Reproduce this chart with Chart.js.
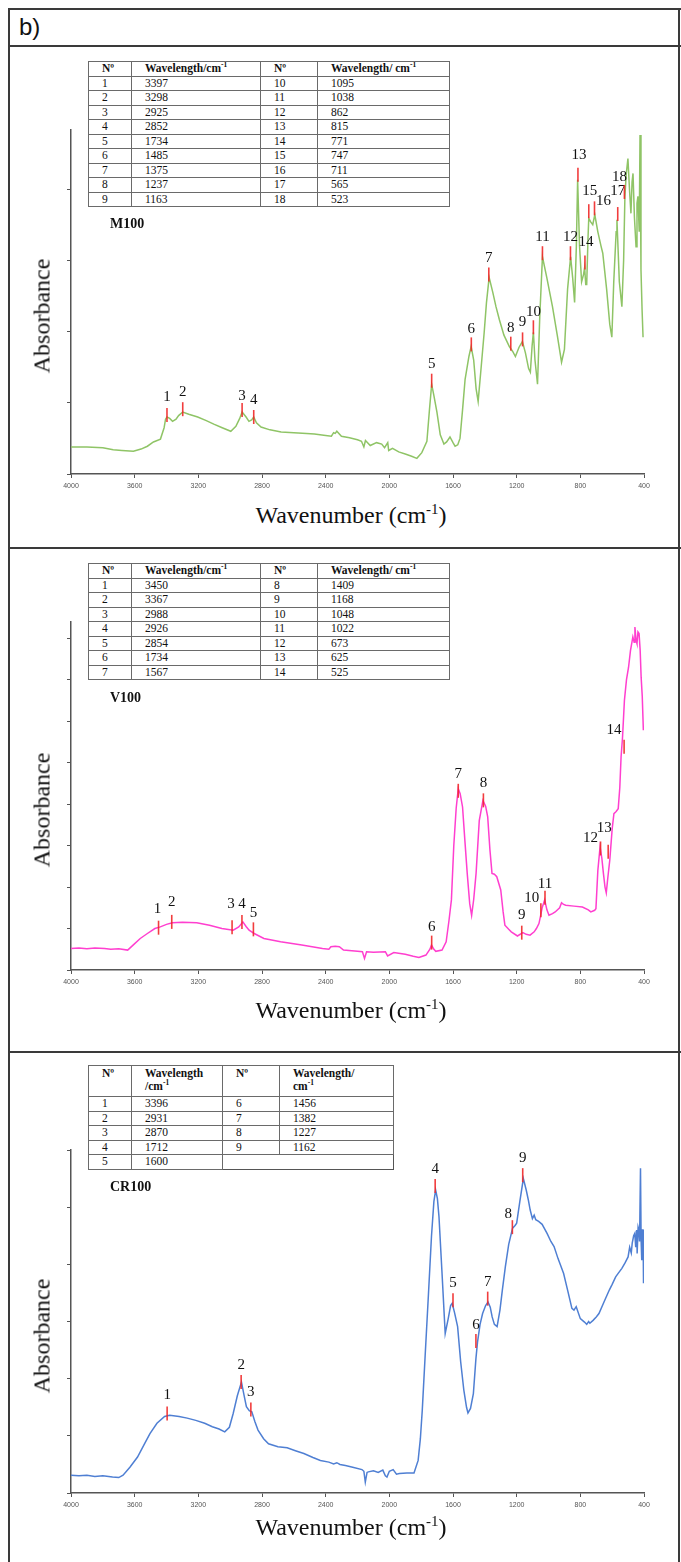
<!DOCTYPE html>
<html><head><meta charset="utf-8">
<script src="https://cdn.jsdelivr.net/npm/chart.js@4.4.1/dist/chart.umd.min.js"></script>
<style>
html,body{margin:0;padding:0;background:#fff;}
#page{position:relative;width:681px;height:1562px;overflow:hidden;background:#fff;}
.ln{position:absolute;background:#3a3a3a;}
canvas{position:absolute;left:0;}
.ylab{position:absolute;font-family:"Liberation Serif",serif;font-size:24px;color:#111;transform:translate(-50%,-50%) rotate(-90deg);white-space:nowrap;left:42px;}
.xlab{position:absolute;font-family:"Liberation Serif",serif;font-size:24px;color:#111;transform:translate(-50%,-50%);white-space:nowrap;left:351px;}
.xlab sup{font-size:15px;}
.tag{position:absolute;left:110px;font-family:"Liberation Serif",serif;font-weight:bold;font-size:14px;transform:translateY(-50%);color:#111;}
.hdr{position:absolute;left:19px;top:27px;transform:translateY(-50%);font-family:"Liberation Sans",Arial,sans-serif;font-size:24px;color:#111;}
table{position:absolute;border-collapse:collapse;font-family:"Liberation Serif",serif;font-size:11.5px;color:#111;background:#fff;table-layout:fixed;border:1.5px solid #555;}
td,th{border:1px solid #6a6a6a;padding:0 0 0 13px;height:13.5px;line-height:13px;text-align:left;white-space:nowrap;overflow:hidden;vertical-align:middle;}
th{font-weight:bold;}
th.two{vertical-align:top;height:29px;line-height:13px;padding-top:1px;}
td.blank{border:none;background:transparent;}
sup{font-size:0.65em;line-height:0;}
</style>
</head><body>
<div id="page">
  <div class="ln" style="left:8px;top:8px;width:673px;height:2px"></div>
  <div class="ln" style="left:8px;top:45px;width:673px;height:2px"></div>
  <div class="ln" style="left:8px;top:547px;width:673px;height:2px"></div>
  <div class="ln" style="left:8px;top:1051px;width:673px;height:2px"></div>
  <div class="ln" style="left:8px;top:8px;width:2px;height:1554px"></div>
  <div class="ln" style="left:678px;top:8px;width:2px;height:1554px"></div>
  <div class="hdr">b)</div>
</div>
<script>
// ---------------- DATA ----------------
const xTickLabels = [4000, 3600, 3200, 2800, 2400, 2000, 1600, 1200, 800, 400];

// M100 spectrum
const m100Wavenumber = [4000,3900,3800,3735,3680,3608,3560,3520,3482,3438,3415,3406,3397,3380,3362,3340,3324,3298,3260,3204,3150,3103,3050,2996,2964,2940,2925,2900,2882,2865,2852,2835,2806,2750,2680,2600,2520,2471,2400,2364,2350,2340,2330,2301,2250,2200,2175,2160,2150,2120,2080,2048,2030,2010,2004,1980,1941,1900,1860,1827,1796,1764,1748,1734,1720,1701,1680,1657,1640,1619,1600,1587,1570,1556,1540,1524,1500,1486,1470,1455,1442,1425,1404,1390,1373,1350,1330,1309,1280,1246,1225,1208,1185,1164,1145,1125,1114,1103,1095,1085,1069,1055,1038,1010,975,945,918,900,880,861,848,836,825,817,805,792,780,773,766,760,752,747,735,722,709,690,670,659,635,615,602,590,575,570,555,539,528,520,512,501,490,482,475,469,460,450,444,438,430,425,419,412,406];
const m100Absorbance = [0.38,0.38,0.37,0.34,0.33,0.32,0.35,0.39,0.45,0.49,0.65,0.77,0.80,0.78,0.74,0.77,0.82,0.87,0.84,0.80,0.75,0.70,0.65,0.60,0.67,0.78,0.87,0.80,0.74,0.76,0.80,0.72,0.66,0.62,0.59,0.58,0.57,0.56,0.54,0.53,0.58,0.57,0.60,0.53,0.51,0.48,0.46,0.38,0.47,0.40,0.44,0.42,0.37,0.44,0.33,0.36,0.31,0.28,0.25,0.22,0.30,0.46,0.90,1.26,1.10,0.87,0.55,0.42,0.45,0.52,0.44,0.39,0.41,0.50,0.90,1.33,1.65,1.79,1.60,1.20,1.02,1.45,1.99,2.40,2.76,2.55,2.35,2.17,1.95,1.79,1.72,1.65,1.78,1.86,1.70,1.48,1.43,1.80,1.99,1.60,1.26,2.20,3.05,2.75,2.35,1.95,1.57,1.75,2.60,3.05,2.75,2.41,3.20,4.13,3.20,2.70,2.80,2.90,2.66,2.66,3.30,3.59,3.54,3.50,3.64,3.40,3.20,3.10,2.60,2.10,1.92,2.70,3.40,3.57,2.70,2.35,3.00,3.89,4.20,4.43,3.95,3.66,4.10,4.22,3.60,3.19,3.80,3.90,3.40,4.76,2.87,2.30,1.92];
const m100PeakNo = [1,2,3,4,5,6,7,8,9,10,11,12,13,14,15,16,17,18];
const m100PeakWn = [3397,3298,2925,2852,1734,1485,1375,1237,1163,1095,1038,862,815,771,747,711,565,523];
const m100PeakAbs = [0.83,0.91,0.90,0.80,1.31,1.82,2.80,1.83,1.89,2.06,3.10,3.10,4.20,2.97,3.69,3.73,3.65,3.96];

// V100 spectrum
const v100Wavenumber = [4000,3950,3900,3850,3789,3750,3700,3644,3610,3565,3520,3473,3439,3400,3363,3300,3210,3130,3052,2981,2946,2920,2900,2881,2849,2788,2683,2550,2420,2380,2367,2340,2314,2288,2200,2169,2156,2143,2100,2025,2011,1972,1900,1850,1814,1770,1745,1735,1720,1708,1669,1643,1625,1610,1595,1580,1567,1555,1540,1525,1510,1495,1483,1470,1455,1435,1412,1395,1382,1368,1355,1340,1325,1300,1285,1274,1250,1234,1195,1161,1140,1116,1090,1076,1060,1050,1040,1024,1010,997,975,958,930,918,905,892,840,787,750,734,710,702,690,676,665,655,645,637,628,615,600,589,575,562,552,544,535,523,510,497,485,470,462,457,450,444,438,431,424,418,411,404];
const v100Absorbance = [0.52,0.53,0.51,0.53,0.52,0.50,0.51,0.48,0.60,0.76,0.88,1.00,1.04,1.10,1.14,1.15,1.14,1.08,1.00,0.96,1.04,1.16,1.05,0.96,0.88,0.76,0.68,0.60,0.52,0.50,0.56,0.57,0.56,0.48,0.45,0.44,0.28,0.44,0.43,0.44,0.34,0.42,0.38,0.33,0.30,0.36,0.50,0.60,0.50,0.45,0.48,0.68,1.20,1.69,3.00,3.90,4.37,4.25,3.93,3.10,2.30,1.60,1.32,1.70,2.33,3.60,4.09,3.95,3.69,2.90,2.33,2.31,2.25,1.93,1.40,1.08,0.98,0.92,0.82,0.90,0.86,0.84,0.92,1.00,1.12,1.30,1.50,1.69,1.45,1.32,1.36,1.40,1.50,1.62,1.58,1.56,1.54,1.52,1.45,1.40,1.44,1.48,2.40,2.97,2.70,2.33,2.00,1.86,2.20,2.65,3.40,3.77,3.82,3.89,4.40,5.14,5.60,6.50,7.00,7.30,7.70,8.03,7.90,8.27,7.95,7.87,8.15,8.11,7.70,7.06,6.60,5.78];
const v100PeakNo = [1,2,3,4,5,6,7,8,9,10,11,12,13,14];
const v100PeakWn = [3450,3367,2988,2926,2854,1734,1567,1409,1168,1048,1022,673,625,525];
const v100PeakAbs = [1.02,1.16,1.03,1.16,0.98,0.66,4.32,4.09,0.90,1.44,1.74,2.93,2.85,5.38];

// CR100 spectrum
const cr100Wavenumber = [4000,3950,3900,3850,3800,3739,3700,3673,3630,3582,3540,3504,3460,3412,3380,3321,3270,3216,3160,3112,3070,3034,3005,2981,2955,2929,2912,2898,2880,2864,2845,2825,2790,2759,2700,2642,2590,2537,2480,2433,2380,2350,2330,2310,2276,2230,2172,2160,2151,2140,2132,2100,2070,2041,2025,2015,2000,1976,1955,1937,1890,1845,1819,1805,1793,1775,1754,1735,1720,1709,1698,1688,1670,1649,1630,1615,1605,1590,1571,1552,1532,1515,1506,1490,1472,1456,1446,1430,1414,1395,1380,1366,1354,1340,1323,1305,1290,1271,1250,1226,1210,1200,1180,1158,1140,1127,1115,1101,1090,1080,1062,1040,1009,985,965,940,905,880,853,840,826,800,774,760,748,740,720,700,683,650,618,600,578,560,539,520,500,490,480,474,465,458,452,446,443,437,432,428,422,418,414,410,406,403];
const cr100Absorbance = [0.31,0.30,0.31,0.29,0.30,0.28,0.27,0.31,0.45,0.63,0.85,1.04,1.22,1.34,1.36,1.34,1.31,1.27,1.22,1.16,1.12,1.07,1.15,1.39,1.70,1.94,1.70,1.51,1.44,1.42,1.25,1.10,0.95,0.86,0.81,0.79,0.74,0.69,0.62,0.57,0.54,0.51,0.53,0.50,0.48,0.45,0.41,0.38,0.19,0.36,0.37,0.39,0.36,0.40,0.30,0.28,0.38,0.41,0.33,0.34,0.35,0.35,0.57,0.95,1.45,2.40,3.49,4.50,5.10,5.30,5.15,4.83,3.90,2.79,3.05,3.28,3.32,3.15,2.91,2.30,1.80,1.50,1.40,1.48,1.74,2.35,2.64,2.95,3.14,3.28,3.34,3.25,3.08,2.95,2.91,3.20,3.55,3.96,4.35,4.63,4.68,4.72,5.10,5.50,5.30,5.13,4.95,4.80,4.86,4.78,4.75,4.70,4.54,4.40,4.31,4.10,3.84,3.55,3.23,3.20,3.26,3.05,2.99,2.95,3.00,2.97,3.02,3.08,3.14,3.35,3.55,3.65,3.78,3.85,3.93,4.02,4.13,4.30,4.20,4.37,4.50,4.54,4.30,4.60,4.19,4.65,4.60,4.40,5.68,4.40,4.07,4.60,4.60,3.67];
const cr100PeakNo = [1,2,3,4,5,6,7,8,9];
const cr100PeakWn = [3396,2931,2870,1712,1600,1456,1382,1227,1162];
const cr100PeakAbs = [1.39,1.94,1.46,5.37,3.37,2.66,3.40,4.65,5.56];

// y tick values per panel
const m100YTicks = [0,1,2,3,4];
const v100YTicks = [0,1,2,3,4,5,6,7,8];
const cr100YTicks = [0,1,2,3,4,5,6];

// ---------------- STYLE / LAYOUT ----------------
const panels = [
  {name:'M100', wn:m100Wavenumber, ab:m100Absorbance, pn:m100PeakNo, pw:m100PeakWn, pa:m100PeakAbs, yt:m100YTicks,
   ymax:4.83, top:130, axis:474, color:'#8fc466', titleY:515, tagY:224,
   tableTop:61, cols:[43,129,57,132], rows:9, twoLine:false,
   ldx:[0,0,0,0,0,0,0,0,0,0,0,0,1,1,1,9,0,-5], ldy:[-18,-17,-14,-17,-17,-15,-17,-16,-17,-15,-16,-16,-20,-20,-20,-7,-23,-15]},
  {name:'V100', wn:v100Wavenumber, ab:v100Absorbance, pn:v100PeakNo, pw:v100PeakWn, pa:v100PeakAbs, yt:v100YTicks,
   ymax:8.39, top:622, axis:970, color:'#ff3fcf', titleY:1010, tagY:698,
   tableTop:563, cols:[43,129,57,132], rows:7, twoLine:false,
   ldx:[-1,0,-1,0,0,0,0,0,0,-9,0,-10,-4,-10], ldy:[-19,-20,-23,-18,-16,-16,-17,-17,-18,-12,-14,-10,-24,-17]},
  {name:'CR100', wn:cr100Wavenumber, ab:cr100Absorbance, pn:cr100PeakNo, pw:cr100PeakWn, pa:cr100PeakAbs, yt:cr100YTicks,
   ymax:6, top:1150, axis:1493, color:'#4f7fd3', titleY:1527, tagY:1187,
   tableTop:1065, cols:[43,91,57,114], rows:5, twoLine:true,
   ldx:[0,0,0,0,0,0,0,-4,0], ldy:[-18,-17,-17,-17,-17,-16,-17,-13,-17]}
];
const X_LEFT = 71, X_RIGHT = 644, PAD_TOP = 30, X_AXIS_H = 26, Y_AXIS_W = 8;

const peakPlugin = {
  id:'peakMarks',
  afterDatasetsDraw(chart, args, o){
    const {ctx} = chart, xs = chart.scales.x, ys = chart.scales.y;
    ctx.save();
    for(let i=0;i<o.wn.length;i++){
      const px = xs.getPixelForValue(o.wn[i]);
      const py = ys.getPixelForValue(o.ab[i]);
      ctx.strokeStyle = 'rgba(240,40,40,0.9)';
      ctx.lineWidth = 1.6;
      ctx.beginPath(); ctx.moveTo(px, py-7); ctx.lineTo(px, py+7); ctx.stroke();
      ctx.fillStyle = '#111';
      ctx.font = '15px "Liberation Serif", serif';
      ctx.textAlign = 'center';
      ctx.textBaseline = 'middle';
      ctx.fillText(String(o.no[i]), px + o.dx[i], py + o.dy[i]);
    }
    ctx.restore();
  }
};

const page = document.getElementById('page');

function buildTable(p){
  const t = document.createElement('table');
  t.style.left = '88px';
  t.style.top = p.tableTop + 'px';
  const cg = document.createElement('colgroup');
  p.cols.forEach(w=>{ const c=document.createElement('col'); c.style.width=w+'px'; cg.appendChild(c); });
  t.appendChild(cg);
  const h = document.createElement('tr');
  const heads = p.twoLine
    ? ['N&ordm;','Wavelength<br>/cm<sup>-1</sup>','N&ordm;','Wavelength/<br>cm<sup>-1</sup>']
    : ['N&ordm;','Wavelength/cm<sup>-1</sup>','N&ordm;','Wavelength/ cm<sup>-1</sup>'];
  heads.forEach(s=>{ const th=document.createElement('th'); th.innerHTML=s; if(p.twoLine) th.className='two'; h.appendChild(th); });
  t.appendChild(h);
  for(let r=0;r<p.rows;r++){
    const tr = document.createElement('tr');
    const j = r + p.rows;
    const cells = [p.pn[r], p.pw[r], p.pn[j], p.pw[j]];
    cells.forEach((v,k)=>{
      const td = document.createElement('td');
      if(v===undefined){ td.className='blank'; td.innerHTML='&nbsp;'; }
      else td.textContent = String(v);
      tr.appendChild(td);
    });
    t.appendChild(tr);
  }
  page.appendChild(t);
}

panels.forEach(p=>{
  const cv = document.createElement('canvas');
  const H = (p.axis - p.top) + PAD_TOP + X_AXIS_H;
  cv.width = 681; cv.height = H;
  cv.style.top = (p.top - PAD_TOP) + 'px';
  cv.style.width = '681px'; cv.style.height = H + 'px';
  page.appendChild(cv);

  const pts = p.wn.map((w,i)=>({x:w, y:p.ab[i]}));
  new Chart(cv.getContext('2d'), {
    type:'line',
    data:{ datasets:[{ data:pts, borderColor:p.color, borderWidth:1.5, pointRadius:0, tension:0, fill:false }] },
    options:{
      responsive:false, animation:false, devicePixelRatio:1,
      layout:{ padding:{ left:X_LEFT - Y_AXIS_W, right:681 - X_RIGHT, top:PAD_TOP, bottom:0 } },
      plugins:{ legend:{display:false}, tooltip:{enabled:false},
        peakMarks:{ wn:p.pw, ab:p.pa, no:p.pn, dx:p.ldx, dy:p.ldy } },
      scales:{
        x:{ type:'linear', reverse:true, min:400, max:4000,
            afterFit(s){ s.height = X_AXIS_H; },
            afterBuildTicks(s){ s.ticks = xTickLabels.map(v=>({value:v})); },
            ticks:{ font:{family:'"Liberation Sans", Arial, sans-serif', size:7}, color:'#555', padding:4, maxRotation:0, autoSkip:false, callback:v=>String(v) },
            grid:{ drawOnChartArea:false, drawTicks:true, tickLength:4, color:'#555', lineWidth:1 },
            border:{ color:'#555', width:1.5 } },
        y:{ type:'linear', min:0, max:p.ymax,
            afterFit(s){ s.width = Y_AXIS_W; },
            afterBuildTicks(s){ s.ticks = p.yt.map(v=>({value:v})); },
            ticks:{ display:false },
            grid:{ drawOnChartArea:false, drawTicks:true, tickLength:4, color:'#555', lineWidth:1 },
            border:{ color:'#555', width:1.5 } }
      }
    },
    plugins:[peakPlugin]
  });

  buildTable(p);

  const yl = document.createElement('div');
  yl.className = 'ylab'; yl.textContent = 'Absorbance';
  yl.style.top = ((p.top + p.axis)/2 + 14) + 'px';
  page.appendChild(yl);

  const xl = document.createElement('div');
  xl.className = 'xlab'; xl.innerHTML = 'Wavenumber (cm<sup>-1</sup>)';
  xl.style.top = p.titleY + 'px';
  page.appendChild(xl);

  const tg = document.createElement('div');
  tg.className = 'tag'; tg.textContent = p.name;
  tg.style.top = p.tagY + 'px';
  page.appendChild(tg);
});
</script>
</body></html>
